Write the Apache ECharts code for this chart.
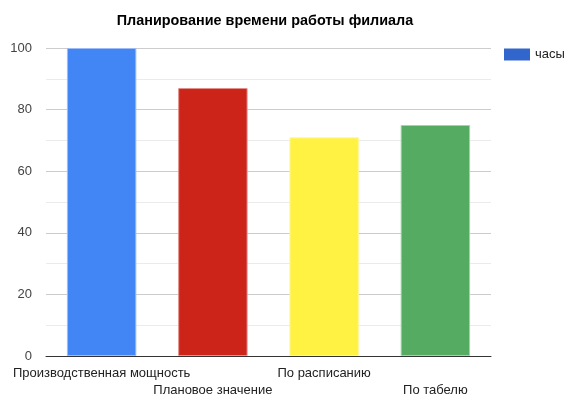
<!DOCTYPE html>
<html>
<head>
<meta charset="utf-8">
<script src="https://cdn.jsdelivr.net/npm/echarts@6/dist/echarts.min.js"></script>
<style>
  html, body { margin: 0; padding: 0; background: #fff; }
  #chart { width: 579px; height: 419px; }
</style>
</head>
<body>
<div id="chart"></div>
<script>
// данные графика
const categories = ['Производственная мощность', 'Плановое значение', 'По расписанию', 'По табелю']
const hours = [100, 87, 71, 75]
const barColors = ['#4285f4', '#cc2419', '#fff242', '#55ab62']
const barBorders = ['#9dbcf7', '#e38f8a', '#fff79a', '#a5d2ab']
const yTicks = [0, 20, 40, 60, 80, 100]

const chart = echarts.init(document.getElementById('chart'))

const option = {
  animation: false,
  title: {
    text: 'Планирование времени работы филиала',
    left: 260,
    textAlign: 'center',
    top: 9,
    textStyle: { fontFamily: 'Liberation Sans', fontSize: 14.4, fontWeight: 'bold', color: '#000' }
  },
  legend: {
    data: ['часы'],
    orient: 'vertical',
    left: 499,
    top: 43,
    icon: 'rect',
    itemWidth: 26,
    itemHeight: 12,
    itemGap: 6,
    textStyle: { fontFamily: 'Liberation Sans', fontSize: 13, color: '#222' }
  },
  grid: { left: 46, right: 88, top: 48, bottom: 63 },
  xAxis: {
    type: 'category',
    data: categories,
    axisLine: { lineStyle: { color: '#333' } },
    axisTick: { show: false },
    axisLabel: {
      interval: 0,
      margin: 9,
      fontFamily: 'Liberation Sans',
      fontSize: 13,
      color: '#222',
      lineHeight: 17,
      formatter: (val, idx) => (idx % 2 === 1 ? '\n' + val : val)
    }
  },
  yAxis: {
    type: 'value',
    min: yTicks[0],
    max: yTicks[yTicks.length - 1],
    interval: 20,
    axisLine: { show: false },
    axisTick: { show: false },
    axisLabel: { fontFamily: 'Liberation Sans', fontSize: 13, color: '#444', margin: 14 },
    splitLine: { lineStyle: { color: '#cccccc' } },
    minorTick: { show: false, splitNumber: 2 },
    minorSplitLine: { show: true, lineStyle: { color: '#ebebeb' } }
  },
  series: [{
    name: 'часы',
    type: 'bar',
    barCategoryGap: '37.6%',
    itemStyle: { color: '#3366cc' },
    data: hours.map((v, i) => ({
      value: v,
      itemStyle: { color: barColors[i], borderColor: barBorders[i], borderWidth: 1 }
    }))
  }]
}

chart.setOption(option)
</script>
</body>
</html>
